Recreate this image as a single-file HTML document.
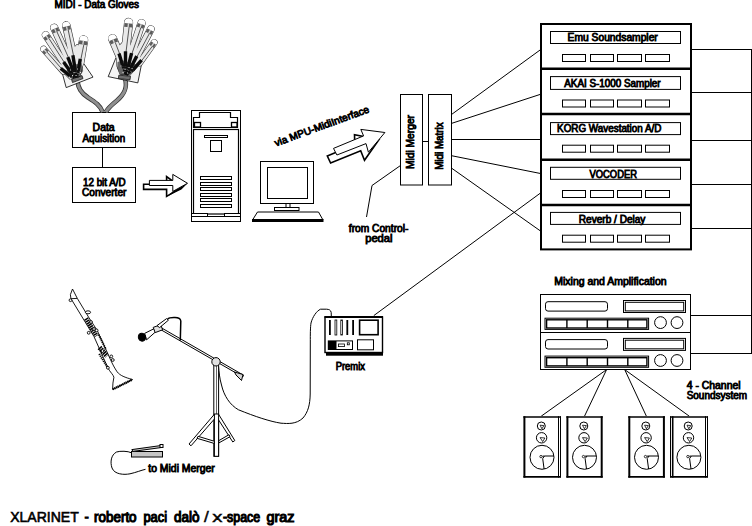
<!DOCTYPE html>
<html><head><meta charset="utf-8"><title>XLARINET</title>
<style>
html,body{margin:0;padding:0;background:#fff;}
body{width:752px;height:526px;overflow:hidden;font-family:"Liberation Sans",sans-serif;}
svg{display:block;}
</style></head><body>
<svg width="752" height="526" viewBox="0 0 752 526" font-family="Liberation Sans, sans-serif">
<rect width="752" height="526" fill="#fff"/>
<g fill="none" stroke="#000">
<rect x="541" y="24" width="150" height="225.4" stroke-width="2" fill="#fff"/>
<line x1="541" x2="691" y1="68.8" y2="68.8" stroke-width="2.4"/>
<line x1="541" x2="691" y1="114" y2="114" stroke-width="2.4"/>
<line x1="541" x2="691" y1="159.8" y2="159.8" stroke-width="2.4"/>
<line x1="541" x2="691" y1="205" y2="205" stroke-width="2.4"/>
<rect x="550.5" y="31.5" width="130" height="12" stroke-width="1"/>
<rect x="562.5" y="54.5" width="23" height="7" stroke-width="1"/>
<rect x="590.5" y="54.5" width="23" height="7" stroke-width="1"/>
<rect x="617.5" y="54.5" width="24" height="7" stroke-width="1"/>
<rect x="645.5" y="54.5" width="24" height="7" stroke-width="1"/>
<rect x="550.5" y="76.6" width="130" height="12.8" stroke-width="1"/>
<rect x="562.5" y="100" width="23" height="7" stroke-width="1"/>
<rect x="590.5" y="100" width="23" height="7" stroke-width="1"/>
<rect x="617.5" y="100" width="24" height="7" stroke-width="1"/>
<rect x="645.5" y="100" width="24" height="7" stroke-width="1"/>
<rect x="550.5" y="122.6" width="130" height="12" stroke-width="1"/>
<rect x="562.5" y="145.2" width="23" height="7" stroke-width="1"/>
<rect x="590.5" y="145.2" width="23" height="7" stroke-width="1"/>
<rect x="617.5" y="145.2" width="24" height="7" stroke-width="1"/>
<rect x="645.5" y="145.2" width="24" height="7" stroke-width="1"/>
<rect x="550.5" y="167.3" width="130" height="12" stroke-width="1"/>
<rect x="562.5" y="190.5" width="23" height="7" stroke-width="1"/>
<rect x="590.5" y="190.5" width="23" height="7" stroke-width="1"/>
<rect x="617.5" y="190.5" width="24" height="7" stroke-width="1"/>
<rect x="645.5" y="190.5" width="24" height="7" stroke-width="1"/>
<rect x="550.5" y="212.4" width="130" height="12" stroke-width="1"/>
<rect x="562.5" y="235.2" width="23" height="7" stroke-width="1"/>
<rect x="590.5" y="235.2" width="23" height="7" stroke-width="1"/>
<rect x="617.5" y="235.2" width="24" height="7" stroke-width="1"/>
<rect x="645.5" y="235.2" width="24" height="7" stroke-width="1"/>
</g>
<g stroke="#000" stroke-width="1" fill="none">
<line x1="451.5" y1="114.5" x2="540.5" y2="49.7"/>
<line x1="451.5" y1="123.4" x2="540.5" y2="94.3"/>
<line x1="451.5" y1="139.5" x2="540.5" y2="139.5"/>
<line x1="451.5" y1="155.7" x2="540.5" y2="173.5"/>
<line x1="451.5" y1="168.1" x2="540.5" y2="231"/>
<line x1="540.5" y1="193" x2="373.8" y2="315.6"/>
<line x1="691" y1="49.5" x2="752" y2="49.5"/>
<line x1="691" y1="92.5" x2="752" y2="92.5"/>
<line x1="691" y1="140.5" x2="752" y2="140.5"/>
<line x1="691" y1="184.5" x2="752" y2="184.5"/>
<line x1="691" y1="228.5" x2="752" y2="228.5"/>
<line x1="691" y1="315.5" x2="752" y2="315.5"/>
<line x1="691" y1="353.5" x2="752" y2="353.5"/>
<line x1="751.5" y1="49" x2="751.5" y2="354"/>
<polyline points="400.5,165.5 372,185.5 366.5,217"/>
<rect x="400.5" y="94.5" width="22" height="90.5" fill="#fff"/>
<rect x="428.5" y="94.5" width="23" height="90.5" fill="#fff"/>
<line x1="422.5" y1="141.5" x2="428.5" y2="141.5"/>
<rect x="72.5" y="112.5" width="63" height="35" fill="#fff"/>
<rect x="72.5" y="167.5" width="63" height="35" fill="#fff"/>
<line x1="102.5" y1="147.5" x2="102.5" y2="167.5"/>
</g>
<g stroke="#000" stroke-width="1" fill="#fff">
<rect x="191.5" y="110.5" width="49" height="106"/>
<rect x="193.5" y="129.5" width="45" height="84.5" stroke-width="1.2"/>
<polygon points="193.5,127.5 193.5,117.5 199.5,117.5 199.5,112.5 230.5,112.5 230.5,117.5 237.5,117.5 237.5,127.5" stroke-width="1.2"/>
<rect x="194.5" y="122.5" width="6" height="4.5" stroke-width="1.3"/>
<rect x="231.5" y="122.5" width="5.5" height="4.5" stroke-width="1.3"/>
<rect x="204.5" y="135.5" width="23" height="2"/>
<rect x="210.5" y="140.5" width="11" height="11"/>
<rect x="200.5" y="176.5" width="31" height="3"/>
<rect x="200.5" y="182.5" width="31" height="3"/>
<rect x="200.5" y="187.5" width="31" height="3"/>
<rect x="200.5" y="193.5" width="31" height="3"/>
<rect x="200.5" y="198.5" width="31" height="3"/>
<rect x="200.5" y="204.5" width="31" height="3"/>
<rect x="191.5" y="213.5" width="16" height="3"/>
<rect x="224.5" y="213.5" width="16" height="3"/>
<rect x="191.5" y="216.5" width="49" height="5"/>
</g>
<g stroke="#000" stroke-width="1" fill="#fff">
<rect x="260.5" y="161.5" width="53" height="42"/>
<rect x="267.5" y="167.5" width="40" height="31"/>
<rect x="286" y="203.5" width="4" height="4"/>
<rect x="274.5" y="207.5" width="24.5" height="3"/>
<polygon points="257.5,212 318.5,212 323,220 252.5,220" />
<line x1="252" y1="220.5" x2="323.5" y2="220.5" stroke-width="3"/>
</g>
<g stroke="#000" fill="#fff" stroke-linejoin="miter">
<path d="M143.6,184.2 H166.6 V176.6 L181.5,187.5 L166.6,196.4 V189.4 H143.6 Z" stroke-width="1.6"/>
<path d="M172.9,191.4 L187.6,183.3 L181.4,189.6 L167,196.6 Z" fill="#000" stroke="none"/>
<path d="M149.4,180.4 H172.8 V174.4 L187.5,183.3 L172.8,191.4 V185.5 H149.4 Z" stroke-width="1"/>
</g>
<g stroke="#000" fill="#fff">
<polygon points="327.3,156 354.8,144.5 354.5,134.8 379,139.5 364.5,160.3 360.7,150.8 330.6,163" stroke-width="1.6"/>
<polygon points="333.5,148.4 363.6,135.9 360.8,129.4 384.9,132.5 368.4,152.2 366,143.6 336.9,155" stroke-width="1"/>
</g>
<g stroke="#000" stroke-width="1" fill="#fff">
<rect x="540.5" y="294.5" width="150" height="75"/>
<line x1="540.5" x2="690.5" y1="332.5" y2="332.5"/>
<rect x="545.5" y="301.7" width="62" height="9.4" rx="2.5"/>
<rect x="623.5" y="300.5" width="62" height="12"/>
<rect x="625.3" y="302.3" width="58.4" height="8.6"/>
<rect x="545" y="318.2" width="103.6" height="11.2"/>
<rect x="546.6" y="319.8" width="100.3" height="8.2" stroke-width="1.4"/>
<line x1="566.9" x2="566.9" y1="319.8" y2="328.0" stroke-width="1.4"/>
<line x1="587.2" x2="587.2" y1="319.8" y2="328.0" stroke-width="1.4"/>
<line x1="607.5" x2="607.5" y1="319.8" y2="328.0" stroke-width="1.4"/>
<line x1="627.8" x2="627.8" y1="319.8" y2="328.0" stroke-width="1.4"/>
<circle cx="660.5" cy="322.6" r="5.9"/>
<circle cx="677" cy="322.6" r="5.9"/>
<rect x="545.5" y="339.6" width="62" height="9.4" rx="2.5"/>
<rect x="623.5" y="338.4" width="62" height="12"/>
<rect x="625.3" y="340.2" width="58.4" height="8.6"/>
<rect x="545" y="356.1" width="103.6" height="11.2"/>
<rect x="546.6" y="357.7" width="100.3" height="8.2" stroke-width="1.4"/>
<line x1="566.9" x2="566.9" y1="357.7" y2="365.9" stroke-width="1.4"/>
<line x1="587.2" x2="587.2" y1="357.7" y2="365.9" stroke-width="1.4"/>
<line x1="607.5" x2="607.5" y1="357.7" y2="365.9" stroke-width="1.4"/>
<line x1="627.8" x2="627.8" y1="357.7" y2="365.9" stroke-width="1.4"/>
<circle cx="660.5" cy="360.5" r="5.9"/>
<circle cx="677" cy="360.5" r="5.9"/>
</g>
<g stroke="#000" stroke-width="1" fill="none">
<line x1="606.6" y1="369.6" x2="541.2" y2="416.2"/>
<line x1="606.6" y1="369.6" x2="584.5" y2="416.2"/>
<line x1="624.7" y1="369.6" x2="646.4" y2="416.2"/>
<line x1="624.7" y1="369.6" x2="689.3" y2="416.2"/>
</g>
<rect x="523.4" y="416.2" width="37.39999999999998" height="61.4" fill="#fff"/>
<g stroke="#000" fill="none">
<line x1="523.4" x2="560.8" y1="417" y2="417" stroke-width="1.7"/>
<line x1="523.4" x2="560.8" y1="476.8" y2="476.8" stroke-width="1.7"/>
<line x1="524.4" x2="524.4" y1="416.2" y2="477.6" stroke-width="2"/>
<line x1="560.5" x2="560.5" y1="416.2" y2="477.6" stroke-width="1"/>
<line x1="558.5" x2="558.5" y1="416.2" y2="477.6" stroke-width="1"/>
</g>
<g fill="#fff" stroke="#000" stroke-width="1">
<circle cx="541.3" cy="426" r="4"/>
<circle cx="541.6" cy="437.8" r="5.2"/>
<circle cx="542.0" cy="457.3" r="12"/>
<path d="M540.1,425.2 L543.9,425.6 L541.9,428.8 Z" stroke-width="0.8"/>
<path d="M540.1,437.6 L544.9,438 L542.7,441.6 Z" stroke-width="0.8"/>
<circle cx="541.0" cy="456.6" r="1.2" stroke-width="0.8"/>
<path d="M542.5,456.2 L544.5,456 L553.9,456 M542.7,458.6 L544.1,469 M542.7,458.6 L544.5,456" stroke-width="1" fill="none"/>
</g>
<rect x="566.4" y="416.2" width="36.30000000000007" height="61.4" fill="#fff"/>
<g stroke="#000" fill="none">
<line x1="566.4" x2="602.7" y1="417" y2="417" stroke-width="1.7"/>
<line x1="566.4" x2="602.7" y1="476.8" y2="476.8" stroke-width="1.7"/>
<line x1="567.4" x2="567.4" y1="416.2" y2="477.6" stroke-width="2"/>
<line x1="601.7" x2="601.7" y1="416.2" y2="477.6" stroke-width="2"/>
</g>
<g fill="#fff" stroke="#000" stroke-width="1">
<circle cx="583.8" cy="426" r="4"/>
<circle cx="584.0" cy="437.8" r="5.2"/>
<circle cx="584.5" cy="457.3" r="12"/>
<path d="M582.5,425.2 L586.4,425.6 L584.4,428.8 Z" stroke-width="0.8"/>
<path d="M582.5,437.6 L587.4,438 L585.1,441.6 Z" stroke-width="0.8"/>
<circle cx="583.5" cy="456.6" r="1.2" stroke-width="0.8"/>
<path d="M585.0,456.2 L587.0,456 L596.4,456 M585.1,458.6 L586.5,469 M585.1,458.6 L587.0,456" stroke-width="1" fill="none"/>
</g>
<rect x="628.3" y="416.2" width="36.60000000000002" height="61.4" fill="#fff"/>
<g stroke="#000" fill="none">
<line x1="628.3" x2="664.9" y1="417" y2="417" stroke-width="1.7"/>
<line x1="628.3" x2="664.9" y1="476.8" y2="476.8" stroke-width="1.7"/>
<line x1="629.3" x2="629.3" y1="416.2" y2="477.6" stroke-width="2"/>
<line x1="663.9" x2="663.9" y1="416.2" y2="477.6" stroke-width="2"/>
</g>
<g fill="#fff" stroke="#000" stroke-width="1">
<circle cx="645.8" cy="426" r="4"/>
<circle cx="646.1" cy="437.8" r="5.2"/>
<circle cx="646.5" cy="457.3" r="12"/>
<path d="M644.6,425.2 L648.4,425.6 L646.4,428.8 Z" stroke-width="0.8"/>
<path d="M644.6,437.6 L649.4,438 L647.2,441.6 Z" stroke-width="0.8"/>
<circle cx="645.5" cy="456.6" r="1.2" stroke-width="0.8"/>
<path d="M647.0,456.2 L649.0,456 L658.4,456 M647.2,458.6 L648.6,469 M647.2,458.6 L649.0,456" stroke-width="1" fill="none"/>
</g>
<rect x="670.2" y="416.2" width="37.5" height="61.4" fill="#fff"/>
<g stroke="#000" fill="none">
<line x1="670.2" x2="707.7" y1="417" y2="417" stroke-width="1.7"/>
<line x1="670.2" x2="707.7" y1="476.8" y2="476.8" stroke-width="1.7"/>
<line x1="670.5" x2="670.5" y1="416.2" y2="477.6" stroke-width="1"/>
<line x1="672.7" x2="672.7" y1="416.2" y2="477.6" stroke-width="1.6"/>
<line x1="707.5" x2="707.5" y1="416.2" y2="477.6" stroke-width="1"/>
<line x1="705.5" x2="705.5" y1="416.2" y2="477.6" stroke-width="1"/>
</g>
<g fill="#fff" stroke="#000" stroke-width="1">
<circle cx="688.2" cy="426" r="4"/>
<circle cx="688.5" cy="437.8" r="5.2"/>
<circle cx="688.9" cy="457.3" r="12"/>
<path d="M687.0,425.2 L690.8,425.6 L688.8,428.8 Z" stroke-width="0.8"/>
<path d="M687.0,437.6 L691.8,438 L689.6,441.6 Z" stroke-width="0.8"/>
<circle cx="687.9" cy="456.6" r="1.2" stroke-width="0.8"/>
<path d="M689.4,456.2 L691.4,456 L700.8,456 M689.6,458.6 L691.0,469 M689.6,458.6 L691.4,456" stroke-width="1" fill="none"/>
</g>
<g stroke="#000" fill="#fff">
<rect x="325" y="317" width="57.5" height="35.5" stroke-width="1.4"/>
<line x1="324.5" x2="383" y1="317" y2="317" stroke-width="2"/>
<rect x="326" y="352.3" width="57" height="3.4" fill="#000" stroke="none"/>
<rect x="329" y="320" width="1.8" height="15" fill="#000" stroke="none"/>
<rect x="335" y="320" width="1.8" height="15" stroke-width="0.8"/>
<rect x="340.8" y="320" width="1.8" height="15" stroke-width="0.8"/>
<rect x="346.4" y="320" width="1.8" height="15" fill="#000" stroke="none"/>
<rect x="352.2" y="320" width="1.8" height="15" fill="#000" stroke="none"/>
<rect x="359.6" y="320.2" width="18.5" height="14.5" stroke-width="1.6"/>
<rect x="327.8" y="340.4" width="25.2" height="9.6" fill="#000" stroke="none"/>
<rect x="336.5" y="341.4" width="15.5" height="7.6" fill="#fff" stroke="none"/>
<rect x="338.5" y="344" width="6" height="2.6" stroke-width="0.8"/>
<rect x="347.3" y="342.8" width="2" height="2" stroke-width="0.8"/>
<rect x="357.5" y="339.8" width="16" height="10" stroke-width="1"/>
</g>
<path d="M331.3,316 L331.2,312.5 C330.8,310 329,309.3 326.5,309.2 L320.5,309.2 C316.5,311 312.5,317 311,323 C310.3,327 310.3,335 310.3,342 L310.2,394 C310,405 308,412 303,418 C296,424.5 288,423.6 281,423.2 C270,421.5 255,416.5 238.5,409.8 C230,405 224,396 221.5,385 C219.5,378 219,372 218.5,366" fill="none" stroke="#000" stroke-width="1"/>
<g stroke="#000" fill="#fff" stroke-width="1">
<rect x="213.8" y="362" width="4.8" height="94.3"/>
<line x1="216.5" x2="216.5" y1="366" y2="456" stroke-width="0.6"/>
<polygon points="214.6,414 189,444 191,445.8 216.6,416.5"/>
<polygon points="218.4,414 234.8,440.5 232.8,442 216.4,416.5"/>
<polygon points="198,436.3 214.5,441.3 214.5,443.5 197,438.3"/>
<polygon points="218.7,440.7 229,434.7 230,436.7 218.7,443"/>
<rect x="214.4" y="414" width="4.2" height="42.3"/>
<polygon points="161,327.6 243.5,375.2 242.8,376.9 160.3,329.4"/>
<polygon points="234.5,372 243,374.5 241.5,380.5 236,375" fill="#d4d4d4"/>
<polygon points="144.6,333.4 154.2,328.6 155.4,332 146.6,339.8"/>
<polygon points="153.2,327.4 160.8,324.6 162.6,329.8 155.2,332.6" fill="#e2e2e2"/>
<ellipse cx="142" cy="337.2" rx="3.6" ry="4" fill="#000" transform="rotate(-25 142 337.2)"/>
<path d="M157,325.6 L166.6,318.6 L168.4,320.2 L159.6,327.6 Z"/>
<path d="M167.6,319 C169,317.6 172,317.5 175,317.6 C178.2,317.7 180.4,318.6 180.8,321 L180.3,340.6" fill="none" stroke-width="1.5"/>
<circle cx="216" cy="361.8" r="4.2" fill="#e0e0e0"/>
</g>
<g stroke="#000" fill="#fff" stroke-width="0.9" stroke-linejoin="round">
<path d="M72.5,289 L70.4,294.6 L70.9,298.5 L94,336.6 L107.9,367.9 C110,372 113.5,375 113.9,377.2 C113,381 112.7,385 112.6,389.5 L132.5,379.5 C125,377.5 120,375.5 117.2,371.9 C114.5,368 112.5,364 110.6,359.9 L97.3,330.6 L88.5,317 L77.3,298.4 Z"/>
<line x1="70.9" y1="298.7" x2="77.3" y2="298.4"/>
<line x1="112.8" y1="389.3" x2="132.3" y2="379.6" stroke-width="2.4" stroke-dasharray="1.2 0.6"/>
<circle cx="70.5" cy="300.2" r="1.4"/>
<ellipse cx="88" cy="312.3" rx="2.6" ry="1.5"/>
<path d="M86,318.5 L96.5,336" fill="none" stroke-width="4.6" stroke-dasharray="1.5 0.7"/>
<path d="M98.6,334.6 L105.9,349.3" fill="none" stroke-width="2" stroke-dasharray="1.2 0.8"/>
<path d="M99.5,347.5 L107,356" fill="none" stroke-width="5" stroke-dasharray="1.5 0.7"/>
<path d="M99.3,353.9 L107.9,367.9" fill="none" stroke-width="2.2" stroke-dasharray="1.2 0.8"/>
<circle cx="88.7" cy="332.8" r="1.4"/>
<circle cx="96.6" cy="330.4" r="1.4"/>
<circle cx="111.3" cy="356.4" r="1.4"/>
<circle cx="112.8" cy="360" r="1.4"/>
<circle cx="107.9" cy="367.8" r="1.4"/>
<circle cx="91" cy="322" r="1.4"/>
<circle cx="94" cy="329" r="1.4"/>
<circle cx="102.5" cy="351" r="1.4"/>
</g>
<g stroke="#000" stroke-width="1">
<rect x="131.5" y="451.5" width="31" height="5.5" fill="#c6c6c6"/>
<path d="M131.8,449.6 L160.5,445.6 L160.8,447.6 L133,451.4 Z" fill="#d0d0d0" />
<rect x="160" y="444.5" width="3" height="3" fill="#fff"/>
<path d="M131.5,452.8 C128,451 120,450.8 116.5,452 C111,455 110,462 112,468 C114.5,474.5 124,475 130,473.8 C136,472.5 141,470.3 145.5,469.3" fill="none"/>
</g>
<path d="M77.3,81 C78.5,88 80.5,92.5 88,97.5 C95,102 100.5,105.5 102.6,112" fill="none" stroke="#333" stroke-width="4.6"/>
<path d="M77.3,81 C78.5,88 80.5,92.5 88,97.5 C95,102 100.5,105.5 102.6,112" fill="none" stroke="#8f8f8f" stroke-width="3"/>
<polygon points="62,72.1 82.4,61.6 93,77.1 66.2,87.6" fill="#f4f4f4" stroke="#000" stroke-width="0.8"/>
<g stroke="#2a2a2a" fill="#2a2a2a" stroke-linecap="round" stroke-linejoin="round">
<polygon points="61,66 66,58 72,50 77,44.5 83,48 83.5,62 80,76 70,79 63,72" stroke-width="1.1"/>
<line x1="43.6" y1="49.1" x2="63.5" y2="71.5" stroke-width="6.699999999999999"/>
<line x1="45.7" y1="35" x2="66.5" y2="66.5" stroke-width="7.699999999999999"/>
<line x1="54.2" y1="27.8" x2="70" y2="62" stroke-width="8.1"/>
<line x1="66.3" y1="25.5" x2="74" y2="60" stroke-width="8.5"/>
<line x1="83.6" y1="40" x2="79.8" y2="62" stroke-width="9.299999999999999"/>
</g>
<g stroke="#e9e9e9" fill="#e9e9e9" stroke-linecap="round" stroke-linejoin="round">
<polygon points="61,66 66,58 72,50 77,44.5 83,48 83.5,62 80,76 70,79 63,72" stroke-width="0.1"/>
<line x1="43.6" y1="49.1" x2="63.5" y2="71.5" stroke-width="5.6"/>
<line x1="45.7" y1="35" x2="66.5" y2="66.5" stroke-width="6.6"/>
<line x1="54.2" y1="27.8" x2="70" y2="62" stroke-width="7.0"/>
<line x1="66.3" y1="25.5" x2="74" y2="60" stroke-width="7.4"/>
<line x1="83.6" y1="40" x2="79.8" y2="62" stroke-width="8.2"/>
</g>
<line x1="43.6" y1="49.1" x2="44.4" y2="50.0" stroke="#fff" stroke-width="5.6" stroke-linecap="round"/>
<line x1="44.2" y1="49.8" x2="46.7" y2="52.6" stroke="#5c5c5c" stroke-width="5.6"/>
<line x1="44.2" y1="49.8" x2="46.7" y2="52.6" stroke="#d8d8d8" stroke-width="1.3"/>
<line x1="47.2" y1="52.2" x2="63.8" y2="71.3" stroke="#222" stroke-width="0.75"/>
<line x1="60.7" y1="68.4" x2="70.0" y2="75.8" stroke="#0a0a0a" stroke-width="3.4" stroke-linecap="butt"/>
<line x1="70.0" y1="75.8" x2="76.5" y2="78.0" stroke="#0a0a0a" stroke-width="2.8" stroke-dasharray="2 0.9"/>
<line x1="45.7" y1="35" x2="46.4" y2="36.0" stroke="#fff" stroke-width="6.6" stroke-linecap="round"/>
<line x1="46.2" y1="35.8" x2="48.3" y2="38.9" stroke="#5c5c5c" stroke-width="6.6"/>
<line x1="46.2" y1="35.8" x2="48.3" y2="38.9" stroke="#d8d8d8" stroke-width="1.3"/>
<line x1="49.0" y1="38.5" x2="66.8" y2="66.3" stroke="#222" stroke-width="0.75"/>
<line x1="63.6" y1="62.1" x2="71.5" y2="73.2" stroke="#0a0a0a" stroke-width="3.4" stroke-linecap="butt"/>
<line x1="71.5" y1="73.2" x2="76.5" y2="78.0" stroke="#0a0a0a" stroke-width="2.8" stroke-dasharray="2 0.9"/>
<line x1="54.2" y1="27.8" x2="54.7" y2="28.9" stroke="#fff" stroke-width="7.0" stroke-linecap="round"/>
<line x1="54.6" y1="28.6" x2="56.2" y2="32.1" stroke="#5c5c5c" stroke-width="7.0"/>
<line x1="54.6" y1="28.6" x2="56.2" y2="32.1" stroke="#d8d8d8" stroke-width="1.3"/>
<line x1="56.9" y1="31.7" x2="70.4" y2="61.8" stroke="#222" stroke-width="0.75"/>
<line x1="67.8" y1="57.2" x2="73.2" y2="71.0" stroke="#0a0a0a" stroke-width="3.4" stroke-linecap="butt"/>
<line x1="73.2" y1="71.0" x2="76.5" y2="78.0" stroke="#0a0a0a" stroke-width="2.8" stroke-dasharray="2 0.9"/>
<line x1="66.3" y1="25.5" x2="66.6" y2="26.7" stroke="#fff" stroke-width="7.4" stroke-linecap="round"/>
<line x1="66.5" y1="26.4" x2="67.3" y2="30.1" stroke="#5c5c5c" stroke-width="7.4"/>
<line x1="66.5" y1="26.4" x2="67.3" y2="30.1" stroke="#d8d8d8" stroke-width="1.3"/>
<line x1="68.2" y1="29.9" x2="74.4" y2="59.9" stroke="#222" stroke-width="0.75"/>
<line x1="72.9" y1="55.2" x2="75.2" y2="70.0" stroke="#0a0a0a" stroke-width="3.4" stroke-linecap="butt"/>
<line x1="75.2" y1="70.0" x2="76.5" y2="78.0" stroke="#0a0a0a" stroke-width="2.8" stroke-dasharray="2 0.9"/>
<line x1="83.6" y1="40" x2="83.4" y2="41.2" stroke="#fff" stroke-width="8.2" stroke-linecap="round"/>
<line x1="83.4" y1="40.9" x2="82.8" y2="44.6" stroke="#5c5c5c" stroke-width="8.2"/>
<line x1="83.4" y1="40.9" x2="82.8" y2="44.6" stroke="#d8d8d8" stroke-width="1.3"/>
<line x1="83.8" y1="44.8" x2="80.3" y2="62.1" stroke="#222" stroke-width="0.75"/>
<line x1="80.3" y1="58.9" x2="78.2" y2="71.0" stroke="#0a0a0a" stroke-width="3.4" stroke-linecap="butt"/>
<line x1="78.2" y1="71.0" x2="76.5" y2="78.0" stroke="#0a0a0a" stroke-width="2.8" stroke-dasharray="2 0.9"/>
<polygon points="71.5,79.2 82,75.6 83,78.6 72.5,82.6" fill="#707070" stroke="#000" stroke-width="0.7"/>
<polygon points="66.5,70.5 71,65.5 81.5,63 83.2,71 78.5,78 70.5,78" fill="#111" opacity="0.6"/>
<path d="M70.5,70 l0.1,0 M74,72.5 l0.1,0 M77.5,69 l0.1,0 M76,75.5 l0.1,0 M80.5,72.5 l0.1,0 M72.5,75.5 l0.1,0" stroke="#eee" stroke-width="1" stroke-linecap="round"/>
<path d="M125.2,79 C127.5,88 124.5,94 117,100.5 C111.5,105 108,108 105.8,112" fill="none" stroke="#333" stroke-width="4.6"/>
<path d="M125.2,79 C127.5,88 124.5,94 117,100.5 C111.5,105 108,108 105.8,112" fill="none" stroke="#8f8f8f" stroke-width="3"/>
<polygon points="116,57.6 108.2,76.6 137.8,82.9 141.3,65.3" fill="#f4f4f4" stroke="#000" stroke-width="0.8"/>
<g stroke="#2a2a2a" fill="#2a2a2a" stroke-linecap="round" stroke-linejoin="round">
<polygon points="116.5,56 119,46 123,42 136,48 140,58 138,66 130,75 120,74 117,66" stroke-width="1.1"/>
<line x1="112.6" y1="38.7" x2="120" y2="56" stroke-width="9.1"/>
<line x1="128.6" y1="22.4" x2="125" y2="56" stroke-width="9.1"/>
<line x1="141.5" y1="23.2" x2="130" y2="58" stroke-width="8.3"/>
<line x1="150.8" y1="29.2" x2="134.5" y2="60.5" stroke-width="7.699999999999999"/>
<line x1="154.2" y1="42.5" x2="139.5" y2="63" stroke-width="6.699999999999999"/>
</g>
<g stroke="#e9e9e9" fill="#e9e9e9" stroke-linecap="round" stroke-linejoin="round">
<polygon points="116.5,56 119,46 123,42 136,48 140,58 138,66 130,75 120,74 117,66" stroke-width="0.1"/>
<line x1="112.6" y1="38.7" x2="120" y2="56" stroke-width="8.0"/>
<line x1="128.6" y1="22.4" x2="125" y2="56" stroke-width="8.0"/>
<line x1="141.5" y1="23.2" x2="130" y2="58" stroke-width="7.2"/>
<line x1="150.8" y1="29.2" x2="134.5" y2="60.5" stroke-width="6.6"/>
<line x1="154.2" y1="42.5" x2="139.5" y2="63" stroke-width="5.6"/>
</g>
<line x1="112.6" y1="38.7" x2="113.1" y2="39.8" stroke="#fff" stroke-width="8.0" stroke-linecap="round"/>
<line x1="113.0" y1="39.5" x2="114.4" y2="43.0" stroke="#5c5c5c" stroke-width="8.0"/>
<line x1="113.0" y1="39.5" x2="114.4" y2="43.0" stroke="#d8d8d8" stroke-width="1.3"/>
<line x1="115.3" y1="42.6" x2="120.4" y2="55.8" stroke="#222" stroke-width="0.75"/>
<line x1="119.0" y1="53.6" x2="123.0" y2="66.5" stroke="#0a0a0a" stroke-width="3.4" stroke-linecap="butt"/>
<line x1="123.0" y1="66.5" x2="126.0" y2="75.0" stroke="#0a0a0a" stroke-width="2.8" stroke-dasharray="2 0.9"/>
<line x1="128.6" y1="22.4" x2="128.5" y2="23.6" stroke="#fff" stroke-width="8.0" stroke-linecap="round"/>
<line x1="128.5" y1="23.3" x2="128.1" y2="27.1" stroke="#5c5c5c" stroke-width="8.0"/>
<line x1="128.5" y1="23.3" x2="128.1" y2="27.1" stroke="#d8d8d8" stroke-width="1.3"/>
<line x1="129.1" y1="27.2" x2="125.5" y2="56.1" stroke="#222" stroke-width="0.75"/>
<line x1="125.5" y1="51.3" x2="125.5" y2="66.5" stroke="#0a0a0a" stroke-width="3.4" stroke-linecap="butt"/>
<line x1="125.5" y1="66.5" x2="126.0" y2="75.0" stroke="#0a0a0a" stroke-width="2.8" stroke-dasharray="2 0.9"/>
<line x1="141.5" y1="23.2" x2="141.1" y2="24.3" stroke="#fff" stroke-width="7.2" stroke-linecap="round"/>
<line x1="141.2" y1="24.1" x2="140.0" y2="27.7" stroke="#5c5c5c" stroke-width="7.2"/>
<line x1="141.2" y1="24.1" x2="140.0" y2="27.7" stroke="#d8d8d8" stroke-width="1.3"/>
<line x1="140.8" y1="27.9" x2="130.4" y2="58.1" stroke="#222" stroke-width="0.75"/>
<line x1="131.6" y1="53.1" x2="128.0" y2="67.5" stroke="#0a0a0a" stroke-width="3.4" stroke-linecap="butt"/>
<line x1="128.0" y1="67.5" x2="126.0" y2="75.0" stroke="#0a0a0a" stroke-width="2.8" stroke-dasharray="2 0.9"/>
<line x1="150.8" y1="29.2" x2="150.2" y2="30.3" stroke="#fff" stroke-width="6.6" stroke-linecap="round"/>
<line x1="150.4" y1="30.0" x2="148.6" y2="33.4" stroke="#5c5c5c" stroke-width="6.6"/>
<line x1="150.4" y1="30.0" x2="148.6" y2="33.4" stroke="#d8d8d8" stroke-width="1.3"/>
<line x1="149.3" y1="33.7" x2="134.9" y2="60.7" stroke="#222" stroke-width="0.75"/>
<line x1="136.8" y1="56.1" x2="130.2" y2="68.8" stroke="#0a0a0a" stroke-width="3.4" stroke-linecap="butt"/>
<line x1="130.2" y1="68.8" x2="126.0" y2="75.0" stroke="#0a0a0a" stroke-width="2.8" stroke-dasharray="2 0.9"/>
<line x1="154.2" y1="42.5" x2="153.5" y2="43.5" stroke="#fff" stroke-width="5.6" stroke-linecap="round"/>
<line x1="153.7" y1="43.2" x2="151.5" y2="46.3" stroke="#5c5c5c" stroke-width="5.6"/>
<line x1="153.7" y1="43.2" x2="151.5" y2="46.3" stroke="#d8d8d8" stroke-width="1.3"/>
<line x1="152.0" y1="46.7" x2="139.8" y2="63.2" stroke="#222" stroke-width="0.75"/>
<line x1="141.6" y1="60.1" x2="132.8" y2="70.0" stroke="#0a0a0a" stroke-width="3.4" stroke-linecap="butt"/>
<line x1="132.8" y1="70.0" x2="126.0" y2="75.0" stroke="#0a0a0a" stroke-width="2.8" stroke-dasharray="2 0.9"/>
<polygon points="118.8,75.2 130.5,76.2 130,79.8 118.4,78.6" fill="#707070" stroke="#000" stroke-width="0.7"/>
<polygon points="117.5,62 123,60.5 136.5,64.5 134.5,70.5 129,75.5 120.5,75 117.2,68" fill="#111" opacity="0.6"/>
<path d="M121,66 l0.1,0 M125,69.5 l0.1,0 M129,67.5 l0.1,0 M123,72.5 l0.1,0 M127.5,73 l0.1,0 M132,68.5 l0.1,0" stroke="#eee" stroke-width="1" stroke-linecap="round"/>
<g font-family="Liberation Sans, sans-serif" fill="#000" stroke="#000" stroke-width="0.8">
<text x="54.6" y="7.7" font-size="10" font-weight="normal" textLength="84.4" lengthAdjust="spacingAndGlyphs" >MIDI - Data Gloves</text>
<text x="92.6" y="130.9" font-size="10" font-weight="normal" textLength="22.1" lengthAdjust="spacingAndGlyphs" >Data</text>
<text x="82.5" y="141.8" font-size="10" font-weight="normal" textLength="42.6" lengthAdjust="spacingAndGlyphs" >Aquisition</text>
<text x="83" y="186.3" font-size="10" font-weight="normal" textLength="42.6" lengthAdjust="spacingAndGlyphs" >12 bit A/D</text>
<text x="82" y="196.1" font-size="10" font-weight="normal" textLength="44.4" lengthAdjust="spacingAndGlyphs" >Converter</text>
<text x="567.6" y="40.9" font-size="10" font-weight="normal" textLength="90.2" lengthAdjust="spacingAndGlyphs" >Emu Soundsampler</text>
<text x="564.3" y="86.9" font-size="10" font-weight="normal" textLength="96.3" lengthAdjust="spacingAndGlyphs" >AKAI S-1000 Sampler</text>
<text x="557.1" y="132.4" font-size="10" font-weight="normal" textLength="104.3" lengthAdjust="spacingAndGlyphs" >KORG Wavestation A/D</text>
<text x="589.5" y="177.5" font-size="10" font-weight="normal" textLength="47.5" lengthAdjust="spacingAndGlyphs" >VOCODER</text>
<text x="578.8" y="222.8" font-size="10" font-weight="normal" textLength="66.6" lengthAdjust="spacingAndGlyphs" >Reverb / Delay</text>
<text x="554.3" y="285" font-size="10" font-weight="normal" textLength="112.3" lengthAdjust="spacingAndGlyphs" >Mixing and Amplification</text>
<text x="686.7" y="388.7" font-size="10" font-weight="normal" textLength="53.9" lengthAdjust="spacingAndGlyphs" >4 - Channel</text>
<text x="686.7" y="399.2" font-size="10" font-weight="normal" textLength="60.3" lengthAdjust="spacingAndGlyphs" >Soundsystem</text>
<text x="335.7" y="370.4" font-size="10" font-weight="normal" textLength="29.3" lengthAdjust="spacingAndGlyphs" >Premix</text>
<text x="148.3" y="471.5" font-size="10" font-weight="normal" textLength="66.5" lengthAdjust="spacingAndGlyphs" >to Midi Merger</text>
<text x="348.8" y="232" font-size="10" font-weight="normal" textLength="59.6" lengthAdjust="spacingAndGlyphs" >from Control-</text>
<text x="365.2" y="241.5" font-size="10" font-weight="normal" textLength="27.3" lengthAdjust="spacingAndGlyphs" >pedal</text>
<g transform="translate(276,146.5) rotate(-20.2)">
<text x="0" y="0" font-size="10" font-weight="normal" textLength="100.0" lengthAdjust="spacingAndGlyphs" >via MPU-MidiInterface</text>
</g>
<g transform="translate(414.4,169) rotate(-90)">
<text x="0" y="0" font-size="10" font-weight="normal" textLength="54.0" lengthAdjust="spacingAndGlyphs" >Midi Merger</text>
</g>
<g transform="translate(443.4,169.8) rotate(-90)">
<text x="0" y="0" font-size="10" font-weight="normal" textLength="47.4" lengthAdjust="spacingAndGlyphs" >Midi Matrix</text>
</g>
</g>
<g font-family="Liberation Sans, sans-serif" fill="#000" stroke="#000">
<text x="10.2" y="522.3" font-size="14.4" font-weight="normal" textLength="68.5" lengthAdjust="spacingAndGlyphs" stroke-width="0.6">XLARINET</text>
<text x="84.5" y="522.3" font-size="14.4" font-weight="normal" textLength="4.3" lengthAdjust="spacingAndGlyphs" stroke-width="1.0">-</text>
<text x="94" y="522.3" font-size="14.4" font-weight="normal" textLength="42.6" lengthAdjust="spacingAndGlyphs" stroke-width="1.15">roberto</text>
<text x="143.5" y="522.3" font-size="14.4" font-weight="normal" textLength="23.5" lengthAdjust="spacingAndGlyphs" stroke-width="1.15">paci</text>
<text x="174.1" y="522.3" font-size="14.4" font-weight="normal" textLength="25.5" lengthAdjust="spacingAndGlyphs" stroke-width="1.15">dalò</text>
<text x="204" y="522.3" font-size="14.4" font-weight="normal" textLength="4.8" lengthAdjust="spacingAndGlyphs" stroke-width="0.4">/</text>
<text x="212.3" y="522.3" font-size="14.4" font-weight="normal" textLength="10.2" lengthAdjust="spacingAndGlyphs" stroke-width="0.4">x</text>
<text x="222.9" y="522.3" font-size="14.4" font-weight="normal" textLength="37.3" lengthAdjust="spacingAndGlyphs" stroke-width="1.15">-space</text>
<text x="266.6" y="522.3" font-size="14.4" font-weight="normal" textLength="27.9" lengthAdjust="spacingAndGlyphs" stroke-width="1.15">graz</text>
</g>
</svg>
</body></html>
